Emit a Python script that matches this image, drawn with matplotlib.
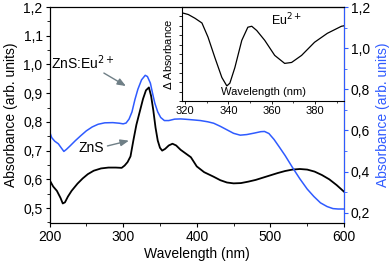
import matplotlib
matplotlib.use("Agg")
import matplotlib.pyplot as plt
from matplotlib.ticker import MultipleLocator, FuncFormatter

plt.rcParams['font.family'] = ['Liberation Sans', 'DejaVu Sans']

# ZnS (left axis)
zns_wl = [200, 205, 210, 215, 218, 221, 225, 230, 238, 245, 252, 260, 270, 280, 290,
          298, 302, 306, 310, 314, 318, 323, 327, 331, 335, 338, 341, 344, 347, 350,
          353, 357, 362, 367, 372, 378, 385, 392, 400, 410, 423, 432, 441, 450, 460,
          470, 480, 490, 500, 510, 520, 530, 540, 550, 560, 570, 580, 590, 600]
zns_abs = [0.598, 0.575, 0.56, 0.535, 0.516, 0.52, 0.54, 0.56, 0.585, 0.603, 0.618, 0.63,
           0.638, 0.641, 0.641, 0.64, 0.648, 0.66, 0.68, 0.737, 0.79, 0.84, 0.88, 0.91,
           0.92, 0.89, 0.84, 0.78, 0.735, 0.71, 0.70, 0.706, 0.718, 0.724, 0.718, 0.703,
           0.69, 0.677, 0.645, 0.625, 0.609, 0.597, 0.589, 0.586, 0.587, 0.592, 0.598,
           0.606, 0.614, 0.622, 0.629, 0.634, 0.636, 0.634, 0.627, 0.615, 0.6, 0.58, 0.557]

# ZnS:Eu2+ (right axis)
eu_wl = [200, 203, 207, 212, 216, 219.5, 223, 228, 235, 242, 250, 258, 266, 275, 286,
         295, 300, 304, 308, 312, 316, 320, 325, 330, 333, 337, 340, 343, 347, 351,
         356, 362, 370, 378, 386, 396, 405, 415, 423, 432, 441, 450, 459, 468, 478,
         487, 492, 498, 505, 512, 520, 530, 540, 550, 559, 568, 577, 585, 592, 600]
eu_abs = [0.595, 0.565, 0.548, 0.535, 0.515, 0.498, 0.508, 0.525, 0.55, 0.573, 0.598, 0.617,
          0.63, 0.637, 0.638, 0.635, 0.632, 0.636, 0.655, 0.69, 0.75, 0.8, 0.846, 0.868,
          0.862, 0.83, 0.78, 0.733, 0.69, 0.663, 0.648, 0.648, 0.655, 0.656, 0.654, 0.651,
          0.648, 0.642, 0.635, 0.62, 0.603, 0.586, 0.577, 0.58, 0.587, 0.594, 0.595, 0.585,
          0.556, 0.52, 0.478, 0.42, 0.365, 0.315, 0.279, 0.248, 0.23, 0.22, 0.218, 0.218]

# inset: difference spectrum
d_wl = [319.1, 321.5, 324.6, 327.8, 330.6, 333.8, 337.0, 339.3, 340.7, 343.0, 346.2, 349.0,
        350.8, 353.1, 356.8, 361.4, 366.0, 369.2, 373.8, 379.8, 385.7, 392.2, 393.4]
d_abs = [0.935, 0.92, 0.88, 0.83, 0.68, 0.46, 0.25, 0.16, 0.19, 0.355, 0.645, 0.785,
         0.795, 0.75, 0.645, 0.485, 0.40, 0.41, 0.485, 0.625, 0.72, 0.795, 0.80]

blue = '#2f5bff'
comma = FuncFormatter(lambda v, p: f'{v:.1f}'.replace('.', ','))

fig = plt.figure(figsize=(3.92, 2.65), dpi=100)
ax = fig.add_axes([0.1263, 0.1585, 0.7513, 0.815])
ax.plot(zns_wl, zns_abs, color='black', lw=1.3)
ax.set_xlim(200, 600)
ax.set_ylim(0.448, 1.2)
ax.xaxis.set_major_locator(MultipleLocator(100))
ax.xaxis.set_minor_locator(MultipleLocator(50))
ax.yaxis.set_major_locator(MultipleLocator(0.1))
ax.yaxis.set_minor_locator(MultipleLocator(0.05))
ax.yaxis.set_major_formatter(comma)
ax.tick_params(which='major', length=3, width=0.8, labelsize=10, pad=2)
ax.tick_params(which='minor', length=2, width=0.6)
ax.set_xlabel('Wavelength (nm)', fontsize=10, labelpad=2)
ax.set_ylabel('Absorbance (arb. units)', fontsize=10, labelpad=4)

ax2 = ax.twinx()
ax2.plot(eu_wl, eu_abs, color=blue, lw=1.1)
ax2.set_ylim(0.15, 1.2)
ax2.yaxis.set_major_locator(MultipleLocator(0.2))
ax2.yaxis.set_minor_locator(MultipleLocator(0.1))
ax2.yaxis.set_major_formatter(comma)
ax2.tick_params(which='major', length=3, width=0.8, labelsize=10, pad=2, color=blue)
ax2.tick_params(which='minor', length=2, width=0.6, color=blue)
ax2.spines['right'].set_color(blue)
ax2.set_ylabel('Absorbance (arb. units)', fontsize=10, color=blue, labelpad=4)

ax.text(245, 1.005, 'ZnS:Eu$^{2+}$', fontsize=10, ha='center', va='center')
ax.annotate('', xy=(307, 0.92), xytext=(270.6, 0.975),
            arrowprops=dict(arrowstyle='-|>,head_length=0.5,head_width=0.2', color='#6f7f86', lw=1))
ax.text(257, 0.709, 'ZnS', fontsize=10, ha='center', va='center')
ax.annotate('', xy=(311.5, 0.737), xytext=(275, 0.714),
            arrowprops=dict(arrowstyle='-|>,head_length=0.5,head_width=0.2', color='#6f7f86', lw=1))

ins = fig.add_axes([0.4643, 0.6189, 0.4133, 0.3547])
ins.plot(d_wl, d_abs, color='black', lw=0.9)
ins.set_xlim(318.6, 393.4)
ins.set_ylim(0, 1)
ins.patch.set_alpha(0)
ins.spines['right'].set_visible(False)
ins.xaxis.set_major_locator(MultipleLocator(20))
ins.xaxis.set_minor_locator(MultipleLocator(10))
ins.yaxis.set_major_locator(MultipleLocator(0.1))
ins.set_yticklabels([])
ins.tick_params(which='major', length=2.5, width=0.6, labelsize=8, pad=1)
ins.tick_params(which='minor', length=1.5, width=0.5)
ins.set_ylabel('$\\Delta$ Absorbance', fontsize=8, labelpad=2)
ins.text(0.5, 0.04, 'Wavelength (nm)', transform=ins.transAxes, fontsize=8, ha='center', va='bottom')
ins.text(0.55, 0.86, 'Eu$^{2+}$', transform=ins.transAxes, fontsize=9, ha='left', va='center')

fig.savefig('out.png', dpi=100)
